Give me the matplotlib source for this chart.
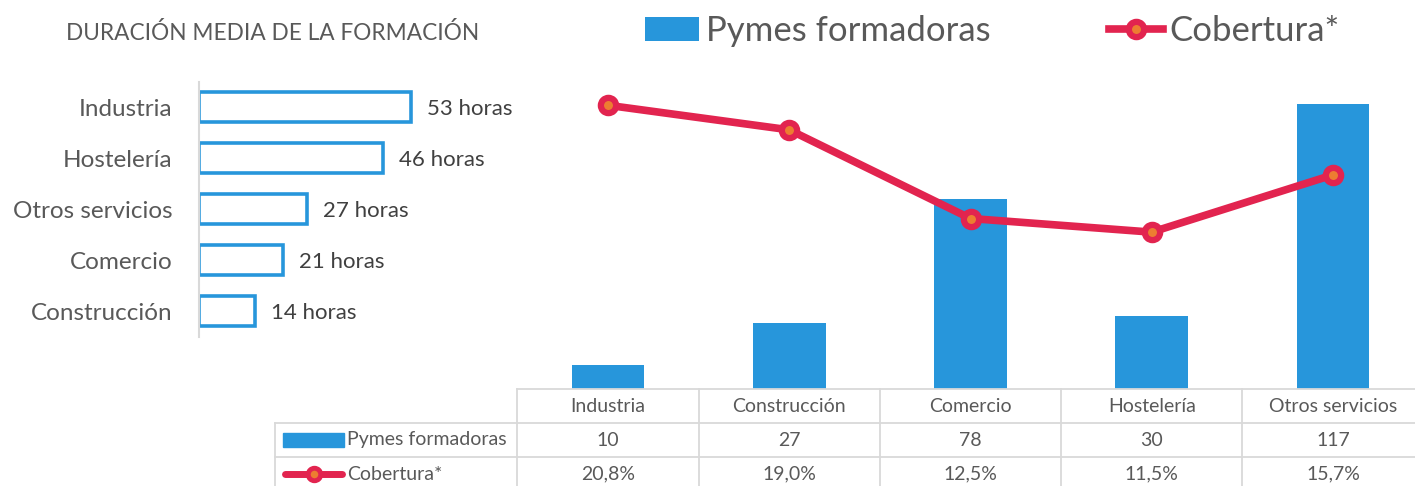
import matplotlib
matplotlib.use('Agg')
import matplotlib.pyplot as plt
from matplotlib.patches import Patch, Rectangle
from matplotlib.lines import Line2D

plt.rcParams['font.family'] = ['Lato', 'DejaVu Sans']

# left chart: average training duration
dur_cats = ['Industria', 'Hostelería', 'Otros servicios', 'Comercio', 'Construcción']
dur_hours = [53, 46, 27, 21, 14]

# right chart: sectors
sectors = ['Industria', 'Construcción', 'Comercio', 'Hostelería', 'Otros servicios']
pymes = [10, 27, 78, 30, 117]
cobertura = [0.208, 0.190, 0.125, 0.115, 0.157]
pymes_lbl = ['10', '27', '78', '30', '117']
cob_lbl = ['20,8%', '19,0%', '12,5%', '11,5%', '15,7%']

BLUE = '#2796DB'
RED = '#E2244F'
ORANGE = '#ED7D31'
GREY = '#595959'
GRID = '#D9D9D9'

W, H = 1415, 486
fig = plt.figure(figsize=(W / 100, H / 100), dpi=100)

def box(x0, y0, x1, y1):
    # pixel box (top-left origin) -> figure fraction
    return [x0 / W, 1 - y1 / H, (x1 - x0) / W, (y1 - y0) / H]

# ---- left: horizontal bars
axl = fig.add_axes(box(199, 81.5, 439, 336.5))
y = range(len(dur_cats))
axl.barh(y, dur_hours, height=0.57, color='white', edgecolor=BLUE, linewidth=2.6)
axl.set_ylim(len(dur_cats) - 0.5, -0.5)
axl.set_xlim(0, 60)
axl.set_yticks(list(y))
axl.set_yticklabels(dur_cats, fontsize=17.5, color=GREY)
axl.tick_params(axis='y', length=0, pad=19)
axl.set_xticks([])
for s in ['top', 'right', 'bottom']:
    axl.spines[s].set_visible(False)
axl.spines['left'].set_color(GRID)
axl.spines['left'].set_linewidth(1.5)
for i, v in enumerate(dur_hours):
    axl.text(v + 4, i, f'{v} horas', va='center_baseline', ha='left', fontsize=16,
             color='#404040')
fig.text(66 / W, 1 - 33 / H, 'DURACIÓN MEDIA DE LA FORMACIÓN', fontsize=16.3, color=GREY,
         va='center', ha='left')

# ---- right: bars + line
axr = fig.add_axes(box(517.4, 48, 1423.6, 389))
x = list(range(len(sectors)))
bars = axr.bar(x, pymes, width=0.4, color=BLUE)
axr.set_xlim(-0.5, 4.5)
axr.set_ylim(0, 140)
axr.axis('off')
ax2 = axr.twinx()
ax2.set_ylim(0, 0.25)
line, = ax2.plot(x, cobertura, color=RED, linewidth=5.5, marker='o', markersize=11,
                 markerfacecolor=ORANGE, markeredgecolor=RED, markeredgewidth=4.5,
                 solid_capstyle='round')
ax2.axis('off')

# top legend
h_bar = Patch(facecolor=BLUE)
h_line = Line2D([], [], color=RED, linewidth=5.5, marker='o', markersize=11,
                markerfacecolor=ORANGE, markeredgecolor=RED, markeredgewidth=4.5)
fig.legend([h_bar, h_line], ['Pymes formadoras', 'Cobertura*'], ncol=2, frameon=False,
           loc='upper left', bbox_to_anchor=(628 / W, 1 + 2 / H), fontsize=25,
           handlelength=1.55, handletextpad=0.2, columnspacing=3.4, borderpad=0,
           labelcolor=GREY)

# ---- data table under the right chart
tab = fig.add_axes(box(517.4, 389, 1423.6, 491))
tab.set_xlim(-0.5, 4.5)
tab.set_ylim(0, 3)
tab.axis('off')
xl = -1.84
kw = dict(color=GRID, linewidth=1.3, clip_on=False)
tab.plot([-0.5, 4.5], [3, 3], **kw)
for yy in [2, 1]:
    tab.plot([xl, 4.5], [yy, yy], **kw)
for xx in [-0.5, 0.5, 1.5, 2.5, 3.5]:
    tab.plot([xx, xx], [0, 3], **kw)
tab.plot([xl, xl], [0, 2], **kw)
for i in x:
    tab.text(i, 2.5, sectors[i], ha='center', va='center', fontsize=14, color=GREY)
    tab.text(i, 1.5, pymes_lbl[i], ha='center', va='center', fontsize=14, color=GREY)
    tab.text(i, 0.5, cob_lbl[i], ha='center', va='center', fontsize=14, color=GREY)
tab.add_patch(Rectangle((-1.795, 1.3), 0.34, 0.4, color=BLUE, clip_on=False))
tab.plot([-1.78, -1.47], [0.5, 0.5], color=RED, linewidth=5, solid_capstyle='round',
         clip_on=False)
tab.plot([-1.625], [0.5], marker='o', markersize=9, markerfacecolor=ORANGE,
         markeredgecolor=RED, markeredgewidth=3.5, clip_on=False)
tab.text(-1.44, 1.5, 'Pymes formadoras', ha='left', va='center', fontsize=14, color=GREY)
tab.text(-1.44, 0.5, 'Cobertura*', ha='left', va='center', fontsize=14, color=GREY)

fig.savefig('out.png', dpi=100)
